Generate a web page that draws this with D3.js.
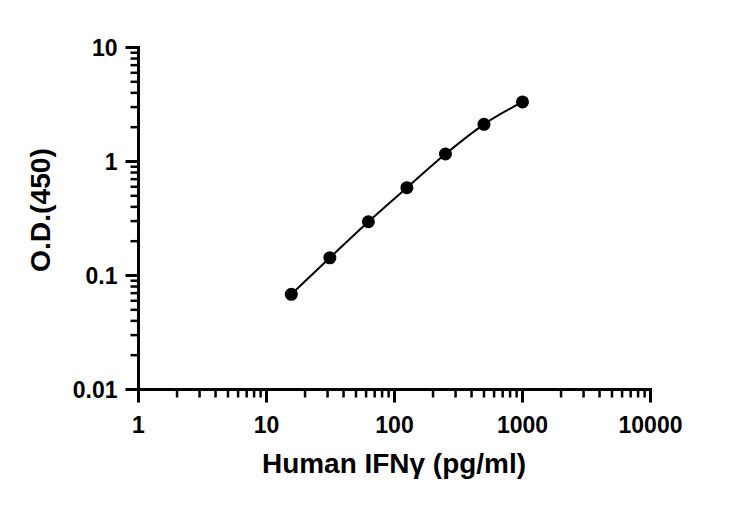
<!DOCTYPE html>
<html><head><meta charset="utf-8">
<script src="https://cdn.jsdelivr.net/npm/d3@7"></script>
<style>body{margin:0;background:#fff}svg{display:block}text{font-family:"Liberation Sans",Arial,sans-serif;font-weight:bold;fill:#000}</style>
</head><body>
<script>
const concentrations = [15.625, 31.25, 62.5, 125, 250, 500, 1000];
const odValues = [0.0684, 0.143, 0.296, 0.589, 1.163, 2.12, 3.33];
const xTickValues = [1, 10, 100, 1000, 10000];
const xTickLabels = ["1", "10", "100", "1000", "10000"];
const yTickValues = [0.01, 0.1, 1, 10];
const yTickLabels = ["0.01", "0.1", "1", "10"];
const xTitle = "Human IFNγ (pg/ml)";
const yTitle = "O.D.(450)";

const W = 732, H = 507;
const svg = d3.select("body").append("svg").attr("width", W).attr("height", H);
const x = d3.scaleLog().domain([1, 10000]).range([138.5, 650.5]);
const y = d3.scaleLog().domain([0.01, 10]).range([389.5, 47.5]);

function minorTicks(domain){
  const out=[];
  for(let p=Math.log10(domain[0]); p<Math.log10(domain[1]); p++){
    for(let k=2;k<=9;k++) out.push(k*Math.pow(10,p));
  }
  return out;
}
const g = svg.append("g");
g.append("line").attr("x1",x(1)).attr("x2",x(10000)+1.5).attr("y1",y(0.01)).attr("y2",y(0.01)).attr("stroke","#000").attr("stroke-width",3);
g.append("line").attr("x1",x(1)).attr("x2",x(1)).attr("y1",y(0.01)+1.5).attr("y2",y(10)-1.5).attr("stroke","#000").attr("stroke-width",3);
g.selectAll(".xmaj").data(xTickValues).enter().append("line")
  .attr("x1",d=>x(d)).attr("x2",d=>x(d)).attr("y1",y(0.01)).attr("y2",y(0.01)+13)
  .attr("stroke","#000").attr("stroke-width",3);
g.selectAll(".xmin").data(minorTicks([1,10000])).enter().append("line")
  .attr("x1",d=>x(d)).attr("x2",d=>x(d)).attr("y1",y(0.01)).attr("y2",y(0.01)+8)
  .attr("stroke","#000").attr("stroke-width",2.5);
g.selectAll(".xlab").data(xTickValues).enter().append("text")
  .attr("x",d=>x(d)).attr("y",432.5).attr("text-anchor","middle").attr("font-size",23)
  .text((d,i)=>xTickLabels[i]);
g.selectAll(".ymaj").data(yTickValues).enter().append("line")
  .attr("x1",x(1)-13).attr("x2",x(1)).attr("y1",d=>y(d)).attr("y2",d=>y(d))
  .attr("stroke","#000").attr("stroke-width",3);
g.selectAll(".ymin").data(minorTicks([0.01,10])).enter().append("line")
  .attr("x1",x(1)-8).attr("x2",x(1)).attr("y1",d=>y(d)).attr("y2",d=>y(d))
  .attr("stroke","#000").attr("stroke-width",2.5);
g.selectAll(".ylab").data(yTickValues).enter().append("text")
  .attr("x",117.5).attr("y",d=>y(d)+8.5).attr("text-anchor","end").attr("font-size",23)
  .text((d,i)=>yTickLabels[i]);
svg.append("text").attr("x",394).attr("y",473).attr("text-anchor","middle").attr("font-size",27)
  .attr("textLength",264).attr("lengthAdjust","spacingAndGlyphs").text(xTitle);
svg.append("text").attr("transform","translate(50,210) rotate(-90)").attr("text-anchor","middle").attr("font-size",27)
  .attr("textLength",124).attr("lengthAdjust","spacingAndGlyphs").text(yTitle);
const pts = concentrations.map((c,i)=>[c, odValues[i]]);
svg.append("path").datum(pts).attr("fill","none").attr("stroke","#000").attr("stroke-width",2)
  .attr("d", d3.line().x(d=>x(d[0])).y(d=>y(d[1])).curve(d3.curveMonotoneX));
svg.selectAll(".pt").data(pts).enter().append("circle")
  .attr("cx",d=>x(d[0])).attr("cy",d=>y(d[1])).attr("r",6.5).attr("fill","#000");
</script>
</body></html>
